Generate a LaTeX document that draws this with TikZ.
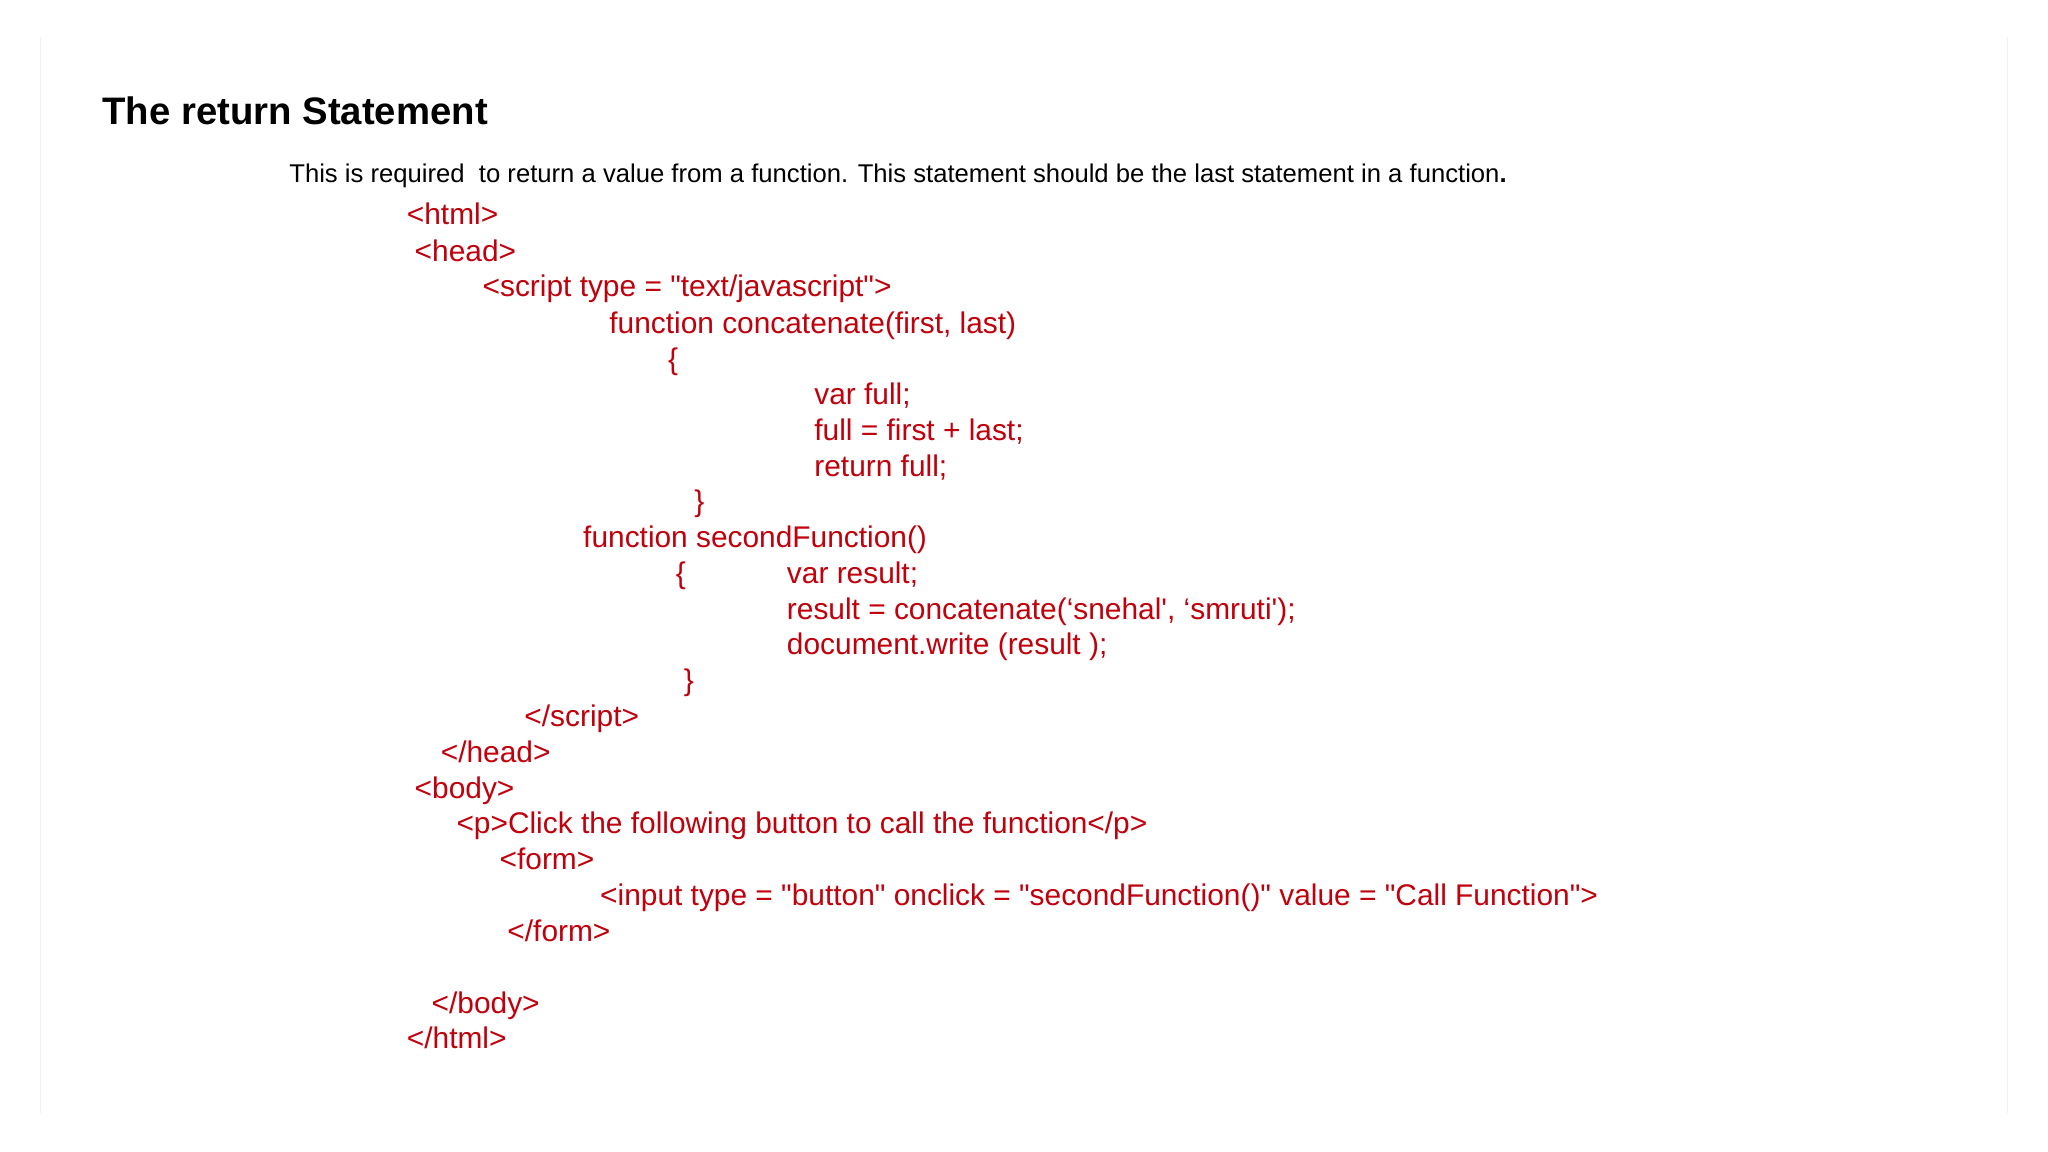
\documentclass[tikz,border=0pt]{standalone}
\usepackage{fontspec}
\newfontfamily\af{Liberation Sans}
\definecolor{codered}{HTML}{C0000C}
\begin{document}
\begin{tikzpicture}[x=0.013061cm,y=-0.013061cm,
  code/.style={anchor=base west,inner sep=0pt,text=codered,font=\af\fontsize{8.5pt}{9pt}\selectfont},
  desc/.style={anchor=base west,inner sep=0pt,font=\af\fontsize{7.3pt}{8pt}\selectfont},
  ttl/.style={anchor=base west,inner sep=0pt,font=\af\bfseries\fontsize{10.9pt}{12pt}\selectfont}]
\useasboundingbox (0,0) rectangle (1568,882);
\fill[white] (0,0) rectangle (1568,882);
\draw[black!5] (31,28) -- (31,852);
\draw[black!5] (1537,28) -- (1537,852);
\node[ttl] (t) at (78,95) {The return Statement};
\node[desc] (d) at (221,140) {This is required\ \ to return a value from a function. This statement should be the last statement in a function\textbf{.}};
\node[code] (l1) at (311,172) {<html>};
\node[code] (l2) at (317,200) {<head>};
\node[code] (l3) at (369,227) {<script type = "text/javascript">};
\node[code] (l4) at (466,255) {function concatenate(first, last)};
\node[code] (l5) at (511,283) {\{};
\node[code] (l6) at (623,310) {var full;};
\node[code] (l7) at (623,337) {full = first + last;};
\node[code] (l8) at (623,365) {return full;};
\node[code] (l9) at (531,392) {\}};
\node[code] (l10) at (446,419) {function secondFunction()};
\node[code] (l11) at (517,447) {\{};
\node[code] (l11b) at (602,447) {var result;};
\node[code] (l12) at (602,474) {result = concatenate(‘snehal', ‘smruti');};
\node[code] (l13) at (602,501) {document.write (result );};
\node[code] (l14) at (523,529) {\}};
\node[code] (l15) at (401,556) {</script>};
\node[code] (l16) at (337,584) {</head>};
\node[code] (l17) at (317,611) {<body>};
\node[code] (l18) at (349,638) {<p>Click the following button to call the function</p>};
\node[code] (l19) at (382,666) {<form>};
\node[code] (l20) at (459,693) {<input type = "button" onclick = "secondFunction()" value = "Call Function">};
\node[code] (l21) at (388,721) {</form>};
\node[code] (l22) at (330,776) {</body>};
\node[code] (l23) at (311,803) {</html>};
\end{tikzpicture}
\end{document}
